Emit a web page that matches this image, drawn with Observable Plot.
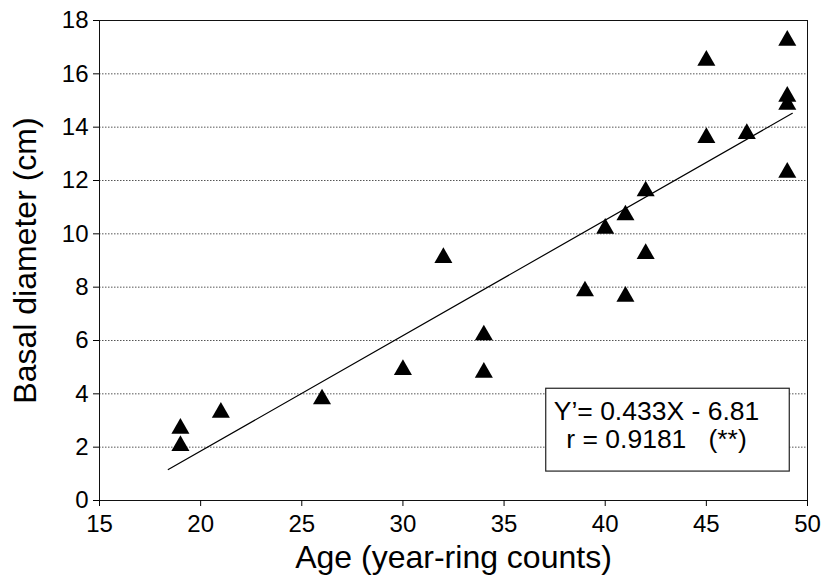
<!DOCTYPE html>
<html><head><meta charset="utf-8">
<script src="https://cdn.jsdelivr.net/npm/d3@7"></script>
<script src="https://cdn.jsdelivr.net/npm/@observablehq/plot@0.6"></script>
<style>body{margin:0;background:#fff}</style>
</head><body><div id="chart"></div>
<script>
const ages = [19, 19, 21, 26, 30, 32, 34, 34, 39, 40, 41, 41, 42, 42, 45, 45, 47, 49, 49, 49, 49];
const diam = [2.8, 2.15, 3.4, 3.9, 5.0, 9.2, 6.3, 4.9, 7.95, 10.3, 10.8, 7.75, 11.7, 9.35, 16.6, 13.7, 13.85, 17.35, 15.25, 14.95, 12.4];
const fitX = [18.4, 49.25];
const fitY = [1.16, 14.52];
const xTicks = [15, 20, 25, 30, 35, 40, 45, 50];
const yTicks = [0, 2, 4, 6, 8, 10, 12, 14, 16, 18];
const gridTicks = [2, 4, 6, 8, 10, 12, 14, 16];
const xTitle = "Age (year-ring counts)";
const yTitle = "Basal diameter (cm)";
const legendLines = ["Y\u2019= 0.433X - 6.81", "r = 0.9181\u00a0\u00a0\u00a0(**)"];

const data = ages.map((a, i) => ({age: a, diam: diam[i]}));
const fit = fitX.map((x, i) => ({x, y: fitY[i]}));
const font = "'Liberation Sans', Arial, Helvetica, sans-serif";

const plot = Plot.plot({
  width: 827, height: 583,
  marginLeft: 99, marginRight: 20, marginTop: 20, marginBottom: 83,
  style: {fontFamily: font, background: "#fff", color: "#000"},
  x: {domain: [15, 50]},
  y: {domain: [0, 18]},
  marks: [
    Plot.gridY(gridTicks, {stroke: "#555", strokeOpacity: 1, strokeDasharray: "1.5,1.5"}),
    Plot.frame({stroke: "#111"}),
    Plot.axisX(xTicks, {tickSize: 6, tickPadding: 8, fontSize: 24, label: null}),
    Plot.axisY(yTicks, {tickSize: 6, tickPadding: 5, fontSize: 24, label: null}),
    Plot.line(fit, {x: "x", y: "y", stroke: "#000", strokeWidth: 1.2}),
    Plot.dot(data, {x: "age", y: "diam", symbol: "triangle", r: 6.7, fill: "#000", stroke: "none", dy: 2.6}),
    Plot.text([xTitle], {frameAnchor: "bottom", dy: 57, fontSize: 32, lineAnchor: "middle", textAnchor: "middle"}),
    Plot.text([yTitle], {frameAnchor: "left", rotate: -90, dx: -74, fontSize: 32, lineAnchor: "middle", textAnchor: "middle"}),
    Plot.text([legendLines.join("\n")], {frameAnchor: "bottom-right", dx: -151, dy: -100, lineAnchor: "top", fontSize: 26.5, lineHeight: 1.05, textAnchor: "middle"})
  ]
});
document.getElementById("chart").append(plot);

const t = [...plot.querySelectorAll("text")].find(e => e.textContent.includes("0.433"));
if (t) {
  const bb = t.getBBox();
  const rect = document.createElementNS("http://www.w3.org/2000/svg", "rect");
  rect.setAttribute("x", bb.x - 8);
  rect.setAttribute("y", bb.y - 8);
  rect.setAttribute("width", bb.width + 38);
  rect.setAttribute("height", bb.height + 25);
  rect.setAttribute("fill", "#fff");
  rect.setAttribute("stroke", "#222");
  rect.setAttribute("stroke-width", "1.2");
  const tr = t.getAttribute("transform");
  if (tr) rect.setAttribute("transform", tr);
  t.parentNode.insertBefore(rect, t);
}
</script>
</body></html>
